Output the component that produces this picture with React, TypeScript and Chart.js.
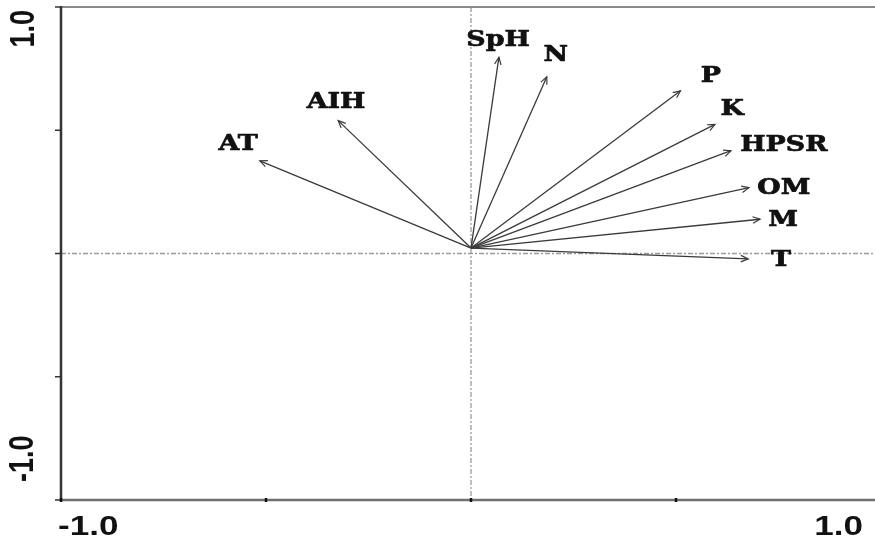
import React, { useEffect, useRef } from "react";
import { Chart, registerables } from "chart.js";

Chart.register(...registerables);

const variables = ["SpH", "N", "AIH", "AT", "P", "K", "HPSR", "OM", "M", "T"];
const tipX = [0.068, 0.185, -0.324, -0.515, 0.511, 0.595, 0.634, 0.678, 0.705, 0.676];
const tipY = [0.796, 0.717, 0.539, 0.376, 0.66, 0.524, 0.417, 0.267, 0.139, -0.022];
const labelX = [0.066, 0.207, -0.329, -0.568, 0.585, 0.637, 0.763, 0.763, 0.761, 0.756];
const labelY = [0.866, 0.805, 0.615, 0.444, 0.72, 0.586, 0.44, 0.266, 0.136, -0.026];
const originX = 0;
const originY = 0.022;

const xTickValues = [-1, -0.5, 0, 0.5, 1];
const yTickValues = [-1, -0.5, 0, 0.5, 1];
const xLabelValues = [-1, 1];
const xLabelTexts = ["-1.0", "1.0"];
const yLabelValues = [1, -1];
const yLabelTexts = ["1.0", "-1.0"];

const STRETCH = 1.3;
const LABEL_STRETCH = 1.22;

const biplotPlugin = {
  id: "biplot",
  beforeDatasetsDraw(chart: any) {
    const { ctx, chartArea, scales } = chart;
    const xs = scales.x;
    const ys = scales.y;
    ctx.save();
    ctx.strokeStyle = "#9a9a9a";
    ctx.lineWidth = 1.3;
    ctx.setLineDash([5, 2, 2, 2]);
    const x0 = xs.getPixelForValue(0);
    const y0 = ys.getPixelForValue(0);
    ctx.beginPath();
    ctx.moveTo(chartArea.left, y0);
    ctx.lineTo(chartArea.right, y0);
    ctx.moveTo(x0, chartArea.top);
    ctx.lineTo(x0, chartArea.bottom);
    ctx.stroke();
    ctx.restore();
  },
  afterDatasetsDraw(chart: any) {
    const { ctx, chartArea, scales } = chart;
    const xs = scales.x;
    const ys = scales.y;
    ctx.save();
    // frame
    ctx.setLineDash([]);
    ctx.strokeStyle = "#8a8a8a";
    ctx.lineWidth = 2;
    ctx.beginPath();
    ctx.moveTo(chartArea.left, chartArea.top);
    ctx.lineTo(chartArea.right, chartArea.top);
    ctx.stroke();
    ctx.strokeStyle = "#707070";
    ctx.lineWidth = 2.5;
    ctx.beginPath();
    ctx.moveTo(chartArea.left, chartArea.bottom);
    ctx.lineTo(chartArea.right, chartArea.bottom);
    ctx.stroke();
    ctx.strokeStyle = "#333";
    ctx.lineWidth = 2.5;
    ctx.beginPath();
    ctx.moveTo(chartArea.left, chartArea.top - 1);
    ctx.lineTo(chartArea.left, chartArea.bottom + 1);
    ctx.stroke();
    // ticks
    ctx.strokeStyle = "#333";
    ctx.lineWidth = 1.5;
    yTickValues.forEach((v) => {
      const py = ys.getPixelForValue(v);
      ctx.beginPath();
      ctx.moveTo(chartArea.left - 6, py);
      ctx.lineTo(chartArea.left, py);
      ctx.stroke();
    });
    ctx.strokeStyle = "#111";
    ctx.lineWidth = 2.5;
    xTickValues.forEach((v) => {
      const px = xs.getPixelForValue(v);
      ctx.beginPath();
      ctx.moveTo(px, chartArea.bottom - 2);
      ctx.lineTo(px, chartArea.bottom + 2);
      ctx.stroke();
    });
    // tick labels
    ctx.fillStyle = "#111";
    ctx.font = "bold 27px 'Liberation Sans', Arial, sans-serif";
    ctx.textBaseline = "middle";
    xLabelValues.forEach((v, i) => {
      const px = xs.getPixelForValue(v);
      ctx.save();
      if (v < 0) {
        ctx.translate(px - 3, chartArea.bottom + 28);
        ctx.scale(STRETCH, 1);
        ctx.textAlign = "left";
      } else {
        ctx.translate(px - 18, chartArea.bottom + 28);
        ctx.scale(STRETCH, 1);
        ctx.textAlign = "right";
      }
      ctx.fillText(xLabelTexts[i], 0, 0);
      ctx.restore();
    });
    yLabelValues.forEach((v, i) => {
      const py = ys.getPixelForValue(v);
      ctx.save();
      if (v > 0) {
        ctx.translate(chartArea.left - 37, py + 3);
        ctx.rotate(-Math.PI / 2);
        ctx.scale(1, STRETCH);
        ctx.textAlign = "right";
      } else {
        ctx.translate(chartArea.left - 38, py - 18);
        ctx.rotate(-Math.PI / 2);
        ctx.scale(1, STRETCH);
        ctx.textAlign = "left";
      }
      ctx.fillText(yLabelTexts[i], 0, 0);
      ctx.restore();
    });
    // arrow heads
    ctx.strokeStyle = "#3a3a3a";
    ctx.lineWidth = 1.2;
    const ox = xs.getPixelForValue(originX);
    const oy = ys.getPixelForValue(originY);
    variables.forEach((_, i) => {
      const tx = xs.getPixelForValue(tipX[i]);
      const ty = ys.getPixelForValue(tipY[i]);
      const ang = Math.atan2(ty - oy, tx - ox);
      const len = 8;
      const spread = 0.42;
      ctx.beginPath();
      ctx.moveTo(tx - len * Math.cos(ang - spread), ty - len * Math.sin(ang - spread));
      ctx.lineTo(tx, ty);
      ctx.lineTo(tx - len * Math.cos(ang + spread), ty - len * Math.sin(ang + spread));
      ctx.stroke();
    });
    // variable labels
    ctx.fillStyle = "#111";
    ctx.strokeStyle = "#111";
    ctx.lineWidth = 0.7;
    ctx.lineJoin = "round";
    ctx.font = "bold 22px 'DejaVu Serif', serif";
    ctx.textAlign = "center";
    ctx.textBaseline = "middle";
    variables.forEach((name, i) => {
      const px = xs.getPixelForValue(labelX[i]);
      const py = ys.getPixelForValue(labelY[i]);
      ctx.save();
      ctx.translate(px, py);
      ctx.scale(LABEL_STRETCH, 1);
      ctx.fillText(name, 0, 0);
      ctx.strokeText(name, 0, 0);
      ctx.restore();
    });
    ctx.restore();
  },
};

export default function App() {
  const canvasRef = useRef<HTMLCanvasElement | null>(null);

  useEffect(() => {
    const canvas = canvasRef.current;
    if (!canvas) return;
    const datasets = variables.map((name, i) => ({
      label: name,
      data: [
        { x: originX, y: originY },
        { x: tipX[i], y: tipY[i] },
      ],
      showLine: true,
      borderColor: "#3a3a3a",
      borderWidth: 1.3,
      pointRadius: 0,
      fill: false,
    }));
    const chart = new Chart(canvas, {
      type: "scatter",
      data: { datasets },
      options: {
        responsive: false,
        animation: false,
        events: [],
        layout: { padding: { left: 61, top: 7, right: 3, bottom: 41 } },
        plugins: {
          legend: { display: false },
          tooltip: { enabled: false },
        },
        scales: {
          x: { type: "linear", min: -1, max: 1, display: false },
          y: { type: "linear", min: -1, max: 1, display: false },
        },
      },
      plugins: [biplotPlugin],
    });
    return () => chart.destroy();
  }, []);

  return (
    <div
      style={{
        position: "fixed",
        left: 0,
        top: 0,
        width: 875,
        height: 541,
        overflow: "hidden",
        background: "#fff",
      }}
    >
      <canvas ref={canvasRef} width={884} height={541} style={{ display: "block" }} />
    </div>
  );
}
